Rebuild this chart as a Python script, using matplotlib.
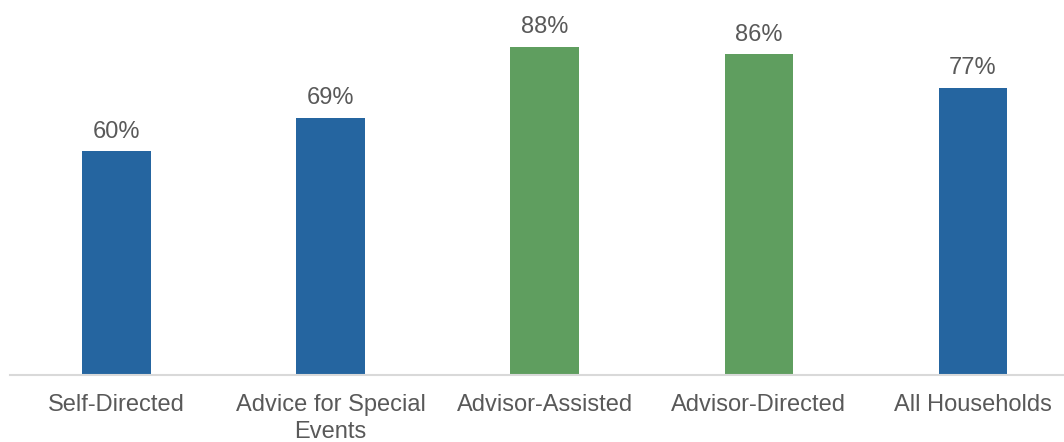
import matplotlib.pyplot as plt

# Share of households by advice relationship
categories = ["Self-Directed", "Advice for Special\nEvents", "Advisor-Assisted",
              "Advisor-Directed", "All Households"]
values = [60, 69, 88, 86, 77]
colors = ["#2565A0", "#2565A0", "#5F9E5F", "#5F9E5F", "#2565A0"]

plt.rcParams['font.family'] = ['Liberation Sans', 'DejaVu Sans']
grey = "#595959"

fig = plt.figure(figsize=(10.64, 4.42), dpi=100)
ax = fig.add_axes([9.5 / 1064, 67 / 442, 1054.5 / 1064, 375 / 442])

x = range(len(categories))
bars = ax.bar(x, values, width=0.32, color=colors)

for b, v in zip(bars, values):
    ax.annotate(f"{v}%", (b.get_x() + b.get_width() / 2, v),
                xytext=(0, 6), textcoords="offset points",
                ha="center", va="bottom", fontsize=17, color=grey)

ax.set_xlim(-0.5, 4.5 - 16 / 214)
ax.set_ylim(0, 100.5)
ax.set_xticks(list(x))
ax.set_xticklabels(categories, fontsize=17, color=grey, linespacing=1.25)
ax.tick_params(axis="x", length=0, pad=14)
ax.set_yticks([])

for side in ["top", "right", "left"]:
    ax.spines[side].set_visible(False)
ax.spines["bottom"].set_color("#D9D9D9")
ax.spines["bottom"].set_linewidth(1.5)

fig.savefig("out.png", dpi=100)
